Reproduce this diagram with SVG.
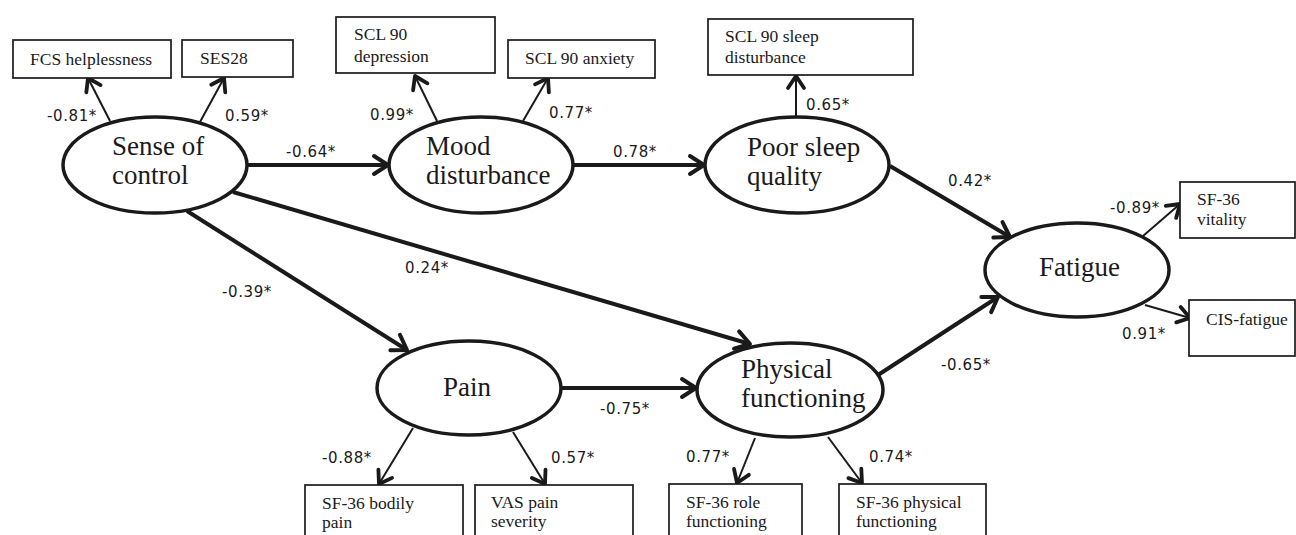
<svg xmlns="http://www.w3.org/2000/svg" width="1296" height="535" viewBox="0 0 1296 535">
<style>
.bg{fill:#fff}
.node ellipse{fill:#fff;stroke:#1a1a1a;stroke-width:3.5}
.node text{font-family:"Liberation Serif","DejaVu Serif",serif;font-size:27px;fill:#1a1a1a}
.box rect{fill:#fff;stroke:#1a1a1a;stroke-width:1.7}
.box text{font-family:"Liberation Serif","DejaVu Serif",serif;font-size:17.5px;fill:#1a1a1a}
.thick{stroke:#1a1a1a;stroke-width:4;fill:none;marker-end:url(#ah)}
.thin{stroke:#1a1a1a;stroke-width:2;fill:none;marker-end:url(#ah2)}
.lbl{font-family:"DejaVu Sans","Liberation Sans",sans-serif;font-size:15px;fill:#1a1a1a;letter-spacing:0.6px}
</style>
<defs>
<marker id="ah" markerUnits="userSpaceOnUse" markerWidth="40" markerHeight="40" refX="0" refY="0" orient="auto" overflow="visible" viewBox="-20 -20 40 40">
<path d="M-14,-9 L0,0 L-14,9" fill="none" stroke="#1a1a1a" stroke-width="4" stroke-linecap="round" stroke-linejoin="round"/>
</marker>
<marker id="ah2" markerUnits="userSpaceOnUse" markerWidth="40" markerHeight="40" refX="0" refY="0" orient="auto" overflow="visible" viewBox="-20 -20 40 40">
<path d="M-12,-8 L0,0 L-12,8" fill="none" stroke="#1a1a1a" stroke-width="3.8" stroke-linecap="round" stroke-linejoin="round"/>
</marker>
</defs>
<rect class="bg" x="0" y="0" width="1296" height="535"/>

<g id="connectors">
<line class="thin" x1="110" y1="121" x2="88" y2="78"/>
<line class="thin" x1="200" y1="122" x2="224" y2="78"/>
<line class="thin" x1="437" y1="121" x2="415" y2="76"/>
<line class="thin" x1="523" y1="121" x2="548" y2="78"/>
<line class="thin" x1="796" y1="117" x2="796" y2="76"/>
<line class="thick" x1="247" y1="165" x2="388" y2="165"/>
<line class="thick" x1="574" y1="165" x2="704" y2="165"/>
<line class="thick" x1="890" y1="166" x2="1010" y2="237"/>
<line class="thick" x1="878" y1="375" x2="998" y2="297"/>
<line class="thick" x1="187" y1="211" x2="407" y2="350"/>
<line class="thick" x1="233" y1="192" x2="750" y2="344"/>
<line class="thick" x1="561" y1="388" x2="696" y2="388"/>
<line class="thin" x1="413" y1="428" x2="379" y2="484"/>
<line class="thin" x1="513" y1="432" x2="545" y2="484"/>
<line class="thin" x1="755" y1="438" x2="737" y2="483"/>
<line class="thin" x1="828" y1="437" x2="862" y2="483"/>
<line class="thin" x1="1143" y1="236" x2="1180" y2="204"/>
<line class="thin" x1="1145" y1="305" x2="1190" y2="318"/>
<text class="lbl" x="47" y="121">-0.81*</text>
<text class="lbl" x="225" y="121">0.59*</text>
<text class="lbl" x="370" y="120">0.99*</text>
<text class="lbl" x="549" y="118">0.77*</text>
<text class="lbl" x="286" y="157">-0.64*</text>
<text class="lbl" x="613" y="157">0.78*</text>
<text class="lbl" x="806" y="110">0.65*</text>
<text class="lbl" x="948" y="186">0.42*</text>
<text class="lbl" x="1110" y="213">-0.89*</text>
<text class="lbl" x="1122" y="339">0.91*</text>
<text class="lbl" x="941" y="370">-0.65*</text>
<text class="lbl" x="222" y="297">-0.39*</text>
<text class="lbl" x="405" y="273">0.24*</text>
<text class="lbl" x="600" y="414">-0.75*</text>
<text class="lbl" x="322" y="463">-0.88*</text>
<text class="lbl" x="551" y="463">0.57*</text>
<text class="lbl" x="686" y="462">0.77*</text>
<text class="lbl" x="869" y="462">0.74*</text>
</g>

<g id="sense-of-control" class="node">
<ellipse cx="155" cy="165" rx="92" ry="48"/>
<text x="112" y="155">Sense of</text>
<text x="112" y="184">control</text>
</g>
<g id="mood-disturbance" class="node">
<ellipse cx="481" cy="165" rx="92" ry="48"/>
<text x="426" y="155">Mood</text>
<text x="426" y="184">disturbance</text>
</g>
<g id="poor-sleep-quality" class="node">
<ellipse cx="797" cy="165" rx="92" ry="48"/>
<text x="747" y="156">Poor sleep</text>
<text x="747" y="185">quality</text>
</g>
<g id="fatigue" class="node">
<ellipse cx="1077" cy="270" rx="92" ry="47"/>
<text x="1039" y="276">Fatigue</text>
</g>
<g id="pain" class="node">
<ellipse cx="469" cy="388" rx="92" ry="47"/>
<text x="443" y="396">Pain</text>
</g>
<g id="physical-functioning" class="node">
<ellipse cx="790" cy="390" rx="93" ry="47"/>
<text x="741" y="378">Physical</text>
<text x="741" y="407">functioning</text>
</g>

<g id="fcs-helplessness" class="box">
<rect x="13" y="40" width="158" height="38"/>
<text x="30" y="65">FCS helplessness</text>
</g>
<g id="ses28" class="box">
<rect x="182" y="40" width="111" height="37"/>
<text x="200" y="64">SES28</text>
</g>
<g id="scl90-depression" class="box">
<rect x="336" y="17" width="159" height="56"/>
<text x="354" y="40">SCL 90</text>
<text x="354" y="62">depression</text>
</g>
<g id="scl90-anxiety" class="box">
<rect x="508" y="40" width="147" height="38"/>
<text x="525" y="64">SCL 90 anxiety</text>
</g>
<g id="scl90-sleep" class="box">
<rect x="708" y="19" width="205" height="56"/>
<text x="725" y="42">SCL 90 sleep</text>
<text x="725" y="63">disturbance</text>
</g>
<g id="sf36-vitality" class="box">
<rect x="1180" y="182" width="115" height="56"/>
<text x="1197" y="205">SF-36</text>
<text x="1197" y="225">vitality</text>
</g>
<g id="cis-fatigue" class="box">
<rect x="1189" y="300" width="106" height="56"/>
<text x="1206" y="325">CIS-fatigue</text>
</g>
<g id="sf36-bodily-pain" class="box">
<rect x="305" y="485" width="158" height="60"/>
<text x="322" y="509">SF-36 bodily</text>
<text x="322" y="528">pain</text>
</g>
<g id="vas-pain-severity" class="box">
<rect x="475" y="485" width="158" height="60"/>
<text x="491" y="508">VAS pain</text>
<text x="491" y="527">severity</text>
</g>
<g id="sf36-role-functioning" class="box">
<rect x="669" y="484" width="133" height="60"/>
<text x="686" y="508">SF-36 role</text>
<text x="686" y="527">functioning</text>
</g>
<g id="sf36-physical-functioning" class="box">
<rect x="839" y="484" width="147" height="60"/>
<text x="856" y="508">SF-36 physical</text>
<text x="856" y="527">functioning</text>
</g>
</svg>
